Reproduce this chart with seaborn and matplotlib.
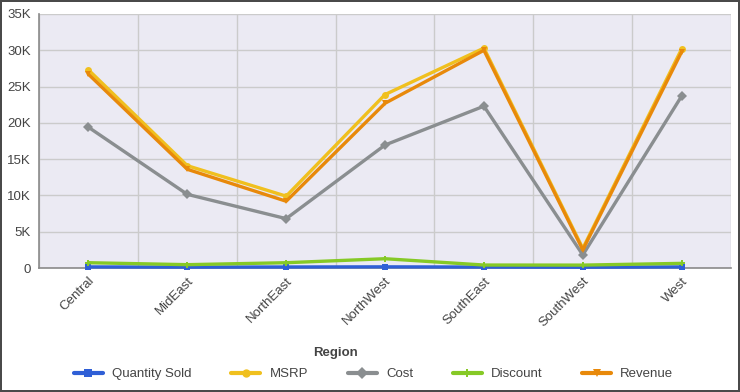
import matplotlib
matplotlib.use("Agg")
import matplotlib.pyplot as plt
from matplotlib.ticker import FuncFormatter, FixedLocator
import seaborn as sns
import pandas as pd

regions = ["Central", "MidEast", "NorthEast", "NorthWest", "SouthEast", "SouthWest", "West"]
quantity_sold = [150, 120, 140, 160, 130, 110, 150]
msrp = [27300, 14100, 9900, 23900, 30300, 2700, 30200]
cost = [19400, 10150, 6800, 16950, 22300, 1800, 23700]
discount = [730, 460, 730, 1280, 410, 400, 640]
revenue = [26700, 13600, 9200, 22700, 30000, 2500, 29800]

series = {
    "Quantity Sold": quantity_sold,
    "MSRP": msrp,
    "Cost": cost,
    "Discount": discount,
    "Revenue": revenue,
}
colors = {
    "Quantity Sold": "#2F5FD6",
    "MSRP": "#F0C01E",
    "Cost": "#8A8E90",
    "Discount": "#86C926",
    "Revenue": "#E8890A",
}
markers = {
    "Quantity Sold": "s",
    "MSRP": "o",
    "Cost": "D",
    "Discount": "P",
    "Revenue": "v",
}

rows = []
for name, vals in series.items():
    for r, v in zip(regions, vals):
        rows.append({"Region": r, "Measure": name, "Value": v})
df = pd.DataFrame(rows)

sns.set_style("darkgrid", {"axes.facecolor": "#EBEAF3", "grid.color": "#CBCBCB"})
plt.rcParams["font.family"] = ["Liberation Sans", "DejaVu Sans"]

fig = plt.figure(figsize=(7.4, 3.92), dpi=100)
fig.patch.set_facecolor("white")
fig.patch.set_edgecolor("#4a4a4a")
fig.patch.set_linewidth(1.5)
ax = fig.add_axes([0.0527, 0.3163, 0.9353, 0.648])

sns.lineplot(
    data=df, x="Region", y="Value", hue="Measure", style="Measure",
    palette=colors, markers=markers, dashes=False, sort=False,
    linewidth=2.4, markersize=5, markeredgewidth=0, ax=ax,
)
# keep the near-zero series visible on top of the bottom spine
for line in ax.lines:
    line.set_zorder(3)
    line.set_clip_on(False)

ax.set_xlim(-0.5, len(regions) - 0.5)
ax.set_ylim(0, 35000)
ax.set_yticks(range(0, 35001, 5000))
ax.yaxis.set_major_formatter(FuncFormatter(lambda v, p: "0" if v == 0 else f"{int(v/1000)}K"))
ax.set_xticks(range(len(regions)))
ax.set_xticklabels(regions, rotation=45, ha="right", rotation_mode="anchor")
ax.xaxis.set_minor_locator(FixedLocator([i - 0.5 for i in range(len(regions) + 1)]))
ax.grid(False, axis="x", which="major")
ax.grid(True, axis="x", which="minor", color="#CBCBCB", linewidth=1)
ax.grid(True, axis="y", which="major", color="#CBCBCB", linewidth=1)
ax.tick_params(axis="both", which="both", length=0, labelsize=9.5, labelcolor="#444444")
ax.tick_params(axis="y", pad=6)
ax.tick_params(axis="x", pad=5)
for s in ["top", "right"]:
    ax.spines[s].set_visible(False)
for s in ["left", "bottom"]:
    ax.spines[s].set_visible(True)
    ax.spines[s].set_color("#8a8a8a")
    ax.spines[s].set_linewidth(1.2)

ax.set_ylabel("")
ax.set_xlabel("")
fig.text(0.453, 0.099, "Region", ha="center", va="center", fontsize=9.5,
         fontweight="bold", color="#444444")

handles, labels = ax.get_legend_handles_labels()
ax.get_legend().remove()
for h in handles:
    h.set_linewidth(3)
    h.set_markersize(6)
fig.legend(handles, labels, loc="center", bbox_to_anchor=(0.505, 0.045), ncol=5,
           frameon=False, fontsize=9.5, handlelength=2.2, handletextpad=0.7,
           columnspacing=3.0, labelcolor="#444444")

fig.savefig("out.png", dpi=100, facecolor=fig.get_facecolor(), edgecolor=fig.get_edgecolor())
